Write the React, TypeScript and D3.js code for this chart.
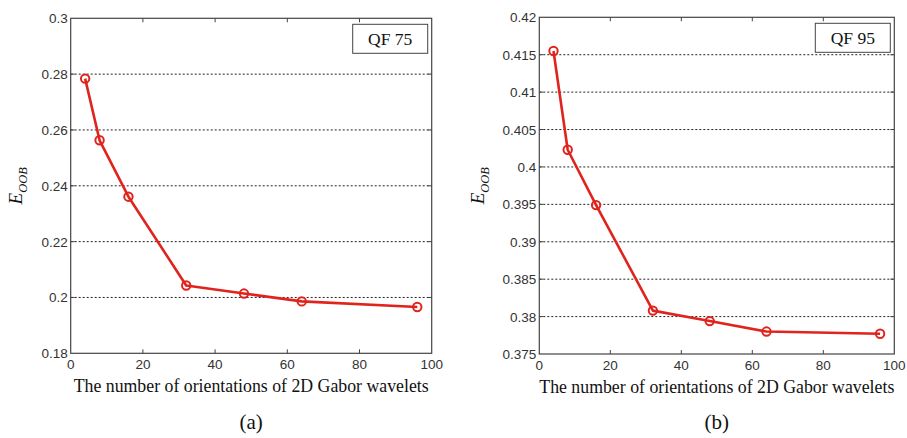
import * as d3 from "d3";
import { useRef, useEffect } from "react";

// values
const orientations = [4, 8, 16, 32, 48, 64, 96];
const errQF75 = [0.2784, 0.2563, 0.2361, 0.2043, 0.2014, 0.1986, 0.1966];
const errQF95 = [0.4155, 0.4023, 0.3949, 0.3808, 0.3794, 0.378, 0.3777];
const xTicks = [0, 20, 40, 60, 80, 100];
const yTicksQF75 = [0.18, 0.2, 0.22, 0.24, 0.26, 0.28, 0.3];
const yTicksQF95 = [0.375, 0.38, 0.385, 0.39, 0.395, 0.4, 0.405, 0.41, 0.415, 0.42];

const width = 907;
const height = 438;
const red = "#e0231c";
const tickFont = "'Liberation Sans', Arial, sans-serif";
const serifFont = "'Liberation Serif', 'Times New Roman', serif";

function drawPanel(svg, { left, right, top, bottom, yDomain, yTicks, values, label, caption, ylabelX, boxW }) {
    const x = d3.scaleLinear().domain([0, 100]).range([left, right]);
    const y = d3.scaleLinear().domain(yDomain).range([bottom, top]);
    const g = svg.append("g");

    // dotted grid
    g.append("g")
        .selectAll("line")
        .data(yTicks.slice(1, -1))
        .join("line")
            .attr("x1", left)
            .attr("x2", right)
            .attr("y1", d => y(d))
            .attr("y2", d => y(d))
            .attr("stroke", "#222")
            .attr("stroke-width", 1)
            .attr("stroke-dasharray", "2,2");

    // inner ticks, matlab style
    const tickLen = 4;
    const tk = g.append("g").attr("stroke", "#444").attr("stroke-width", 1);
    xTicks.slice(1, -1).forEach(t => {
        tk.append("line").attr("x1", x(t)).attr("x2", x(t)).attr("y1", top).attr("y2", top + tickLen);
        tk.append("line").attr("x1", x(t)).attr("x2", x(t)).attr("y1", bottom).attr("y2", bottom - tickLen);
    });
    yTicks.slice(1, -1).forEach(t => {
        tk.append("line").attr("x1", left).attr("x2", left + tickLen).attr("y1", y(t)).attr("y2", y(t));
        tk.append("line").attr("x1", right).attr("x2", right - tickLen).attr("y1", y(t)).attr("y2", y(t));
    });

    g.append("rect")
        .attr("x", left).attr("y", top)
        .attr("width", right - left).attr("height", bottom - top)
        .attr("fill", "none").attr("stroke", "#444").attr("stroke-width", 1.2);

    // tick labels
    g.append("g")
        .attr("font-family", tickFont).attr("font-size", 13.5).attr("fill", "#333")
        .attr("text-anchor", "end")
        .selectAll("text")
        .data(yTicks)
        .join("text")
            .attr("x", left - 3)
            .attr("y", d => y(d) + 5)
            .text(d => String(+d.toFixed(3)));

    g.append("g")
        .attr("font-family", tickFont).attr("font-size", 13.5).attr("fill", "#333")
        .attr("text-anchor", "middle")
        .selectAll("text")
        .data(xTicks)
        .join("text")
            .attr("x", d => x(d))
            .attr("y", bottom + 16)
            .text(d => d);

    // the curve
    const pts = orientations.map((o, i) => [o, values[i]]);
    g.append("path")
        .datum(pts)
        .attr("fill", "none")
        .attr("stroke", red)
        .attr("stroke-width", 2.6)
        .attr("stroke-linejoin", "round")
        .attr("d", d3.line().x(d => x(d[0])).y(d => y(d[1])));

    g.append("g")
        .selectAll("circle")
        .data(pts)
        .join("circle")
            .attr("cx", d => x(d[0]))
            .attr("cy", d => y(d[1]))
            .attr("r", 4.2)
            .attr("fill", "none")
            .attr("stroke", red)
            .attr("stroke-width", 2);

    // QF label box
    g.append("rect")
        .attr("x", right - 4 - boxW).attr("y", top + 6)
        .attr("width", boxW).attr("height", 29)
        .attr("fill", "white").attr("stroke", "#444").attr("stroke-width", 1);
    g.append("text")
        .attr("x", right - 4 - boxW / 2).attr("y", top + 27)
        .attr("text-anchor", "middle")
        .attr("font-family", serifFont).attr("font-size", 17.5).attr("fill", "#111")
        .text(label);

    // axis titles
    g.append("text")
        .attr("x", (left + right) / 2).attr("y", bottom + 39)
        .attr("text-anchor", "middle")
        .attr("font-family", serifFont).attr("font-size", 17.8).attr("fill", "#111")
        .text("The number of orientations of 2D Gabor wavelets");

    const yl = g.append("text")
        .attr("transform", `translate(${ylabelX},${(top + bottom) / 2}) rotate(-90)`)
        .attr("text-anchor", "middle")
        .attr("font-family", serifFont).attr("font-size", 19).attr("fill", "#111")
        .attr("font-style", "italic");
    yl.append("tspan").text("E");
    yl.append("tspan").attr("font-size", 12.5).attr("dy", 5).text("OOB");

    g.append("text")
        .attr("x", (left + right) / 2).attr("y", 429)
        .attr("text-anchor", "middle")
        .attr("font-family", serifFont).attr("font-size", 21).attr("fill", "#111")
        .text(caption);
}

export default function App() {
    const ref = useRef(null);

    useEffect(() => {
        const svg = d3.select(ref.current);
        svg.selectAll("*").remove();

        drawPanel(svg, {
            left: 70.7, right: 431.7, top: 18.3, bottom: 353.3,
            yDomain: [0.18, 0.3], yTicks: yTicksQF75, values: errQF75,
            label: "QF 75", caption: "(a)", ylabelX: 22, boxW: 75
        });
        drawPanel(svg, {
            left: 539.3, right: 894.3, top: 17.3, bottom: 354,
            yDomain: [0.375, 0.42], yTicks: yTicksQF95, values: errQF95,
            label: "QF 95", caption: "(b)", ylabelX: 484, boxW: 75
        });
    }, []);

    return (
        <div style={{ position: "absolute", left: 0, top: 0 }}>
            <svg ref={ref} width={width} height={height} style={{ display: "block", background: "white" }} />
        </div>
    );
}
